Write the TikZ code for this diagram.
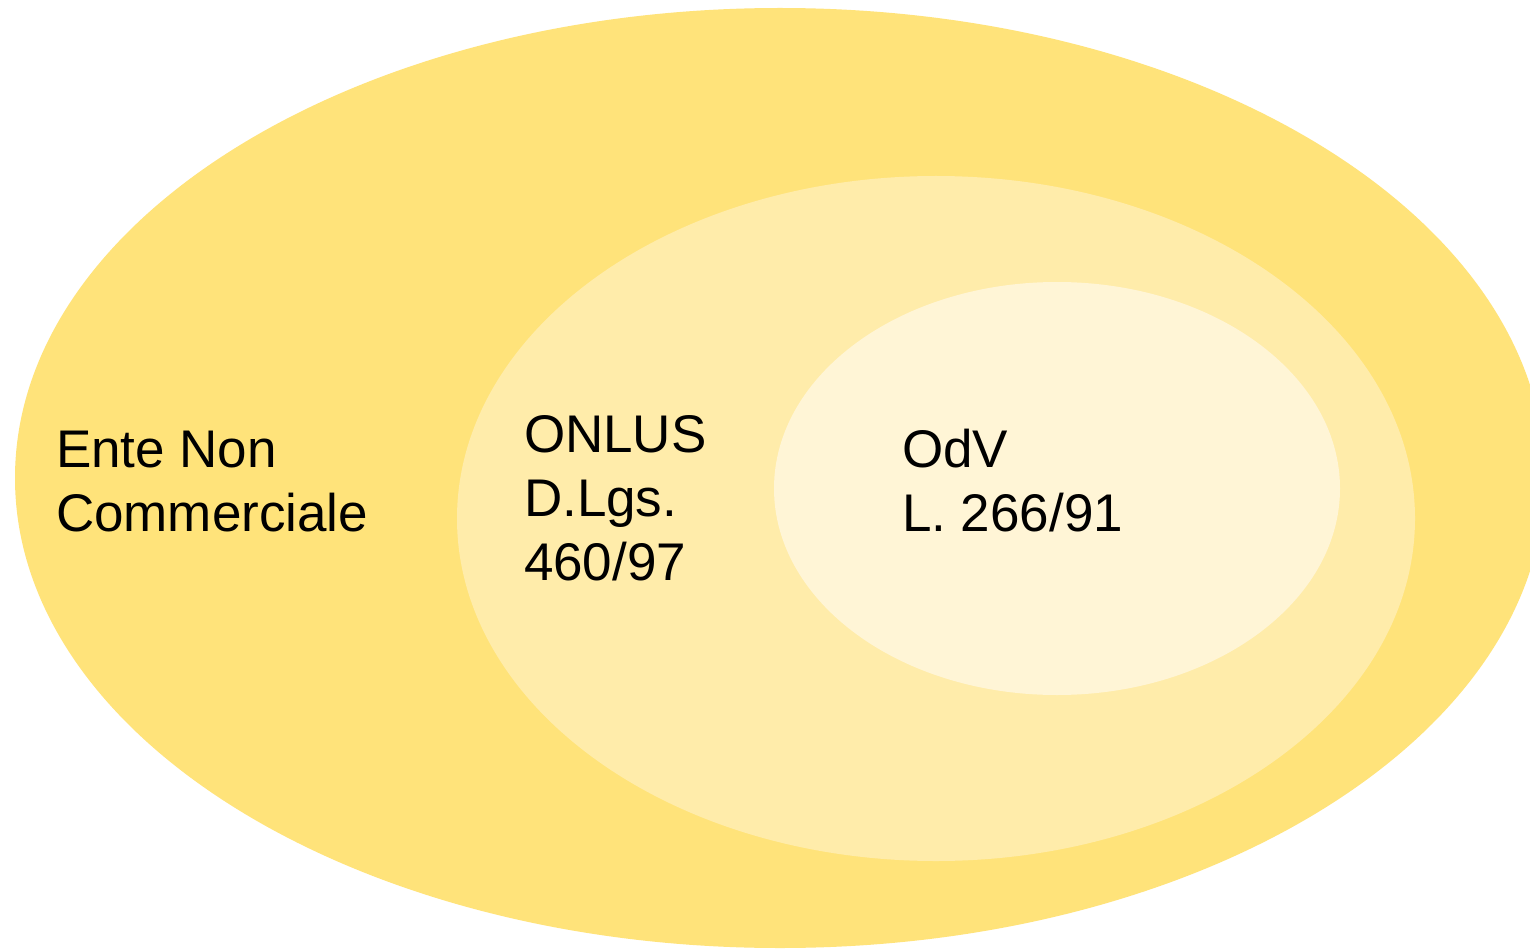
\documentclass[tikz,border=0pt]{standalone}
\usepackage{fontspec}
\setmainfont{Liberation Sans}
\usetikzlibrary{shapes.geometric}
\definecolor{outerfill}{RGB}{255,227,122}
\definecolor{midfill}{RGB}{255,236,170}
\definecolor{innerfill}{RGB}{255,245,214}
\tikzset{
  region/.style={ellipse, draw=none, inner sep=0pt, outer sep=0pt},
  label/.style={anchor=base west, align=left, inner sep=0pt, outer sep=0pt,
    font=\fontsize{53}{64}\selectfont, text=black}
}
\begin{document}
\begin{tikzpicture}[x=1pt, y=-1pt]
  \useasboundingbox (0,0) rectangle (1530,949);
  \clip (0,0) rectangle (1530,949);
  \fill[white] (0,0) rectangle (1530,949);
  % nested sets
  \node[region, fill=outerfill, minimum width=1530pt, minimum height=940pt] (ente) at (780,478) {};
  \node[region, fill=midfill, minimum width=958pt, minimum height=685pt] (onlus) at (936,518.5) {};
  \node[region, fill=innerfill, minimum width=566pt, minimum height=413pt] (odv) at (1057,488.5) {};
  % labels (anchored on the baseline of their last line)
  \node[label] (enteL) at (56,531) {Ente Non\\Commerciale};
  \node[label] (onlusL) at (524,580) {ONLUS\\D.Lgs.\\460/97};
  \node[label] (odvL) at (902,531) {OdV\\L. 266/91};
\end{tikzpicture}
\end{document}
